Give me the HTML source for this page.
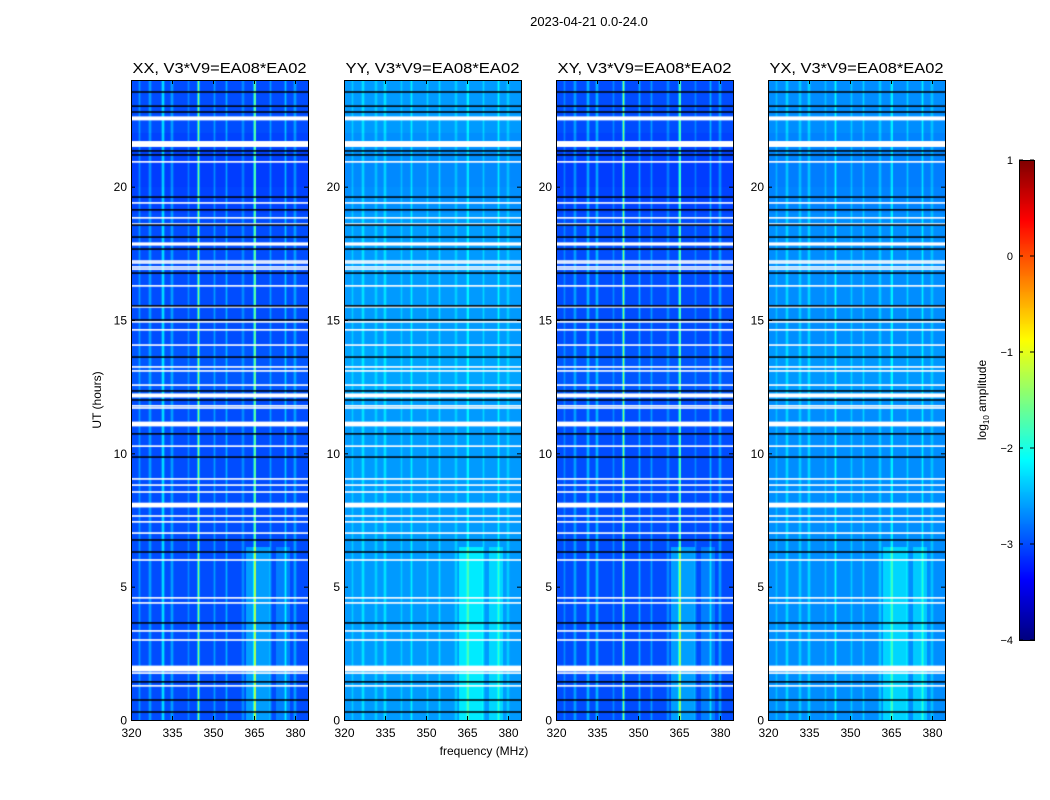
<!DOCTYPE html>
<html><head><meta charset="utf-8">
<style>
body{margin:0;background:#fff;width:1050px;height:800px;overflow:hidden;position:relative;font-family:"Liberation Sans",sans-serif}
canvas{position:absolute}
svg{position:absolute;left:0;top:0}
</style></head>
<body>
<canvas id="c0" width="177" height="640" style="left:131px;top:80px"></canvas>
<canvas id="c1" width="177" height="640" style="left:344px;top:80px"></canvas>
<canvas id="c2" width="177" height="640" style="left:556px;top:80px"></canvas>
<canvas id="c3" width="177" height="640" style="left:768px;top:80px"></canvas>
<canvas id="cb" width="15" height="480" style="left:1019px;top:160px"></canvas>
<svg id="ov" width="1050" height="800"></svg>
<script>
// ---- data ----
const panelNames = ['XX','YY','XY','YX'];
const baseLevel = [-3.0,-2.62,-3.0,-2.68];
const spikeFreq = [323,327,331.7,335,341,344.7,350.5,355,361,365.3,371,376.5,380];
const spikeAmpXX = [0.4,0.4,0.7,0.4,0.3,1.6,0.4,0.5,0.3,1.3,0.4,0.6,0.4];
const spikeAmpYY = [0.25,0.35,0.25,0.35,0.25,0.45,0.3,0.35,0.25,0.45,0.3,0.5,0.25];
const spikeAmpXY = [0.3,0.4,0.5,0.5,0.3,1.6,0.5,0.4,0.3,1.2,0.3,0.5,0.4];
const spikeAmpYX = [0.25,0.35,0.3,0.35,0.25,0.6,0.3,0.35,0.3,0.5,0.35,0.5,0.25];
const bandF0 = [362,373];
const bandF1 = [371,378];
const bandT1 = [6.5,6.5];
const bandAmpXX = [0.4,0.25];
const bandAmpYY = [0.4,0.3];
const bandAmpXY = [0.4,0.25];
const bandAmpYX = [0.35,0.3];
const hourOffset = [0,0,0,0,0,0,0,0,0,0,0,0,0.05,0.05,0,0,0,0,0,-0.05,-0.08,-0.05,0,0];
const whiteT = [22.56,21.6,20.93,19.39,18.83,18.6,17.85,17.21,17.14,16.99,16.91,16.28,15.49,14.93,14.63,14.06,13.24,13.09,12.56,12.17,11.78,11.7,11.1,10.27,9.04,8.81,8.55,8.06,7.65,7.43,7.01,6.0,4.58,4.39,3.34,3.0,1.93,1.76,1.28];
const whiteW = [0.15,0.22,0.06,0.06,0.06,0.06,0.12,0.06,0.06,0.06,0.06,0.06,0.06,0.06,0.06,0.06,0.06,0.06,0.06,0.15,0.06,0.06,0.18,0.06,0.06,0.06,0.06,0.18,0.06,0.06,0.06,0.06,0.06,0.06,0.06,0.06,0.22,0.06,0.06];
const blackT = [23.55,23.02,22.8,21.34,21.19,19.61,19.13,18.56,18.11,17.66,16.76,15.53,15.0,13.61,12.34,12.0,10.73,9.86,6.75,6.3,3.64,1.43,0.75,0.3];
const xTicks = [320,335,350,365,380];
const yTicks = [0,5,10,15,20];
const cbTicks = [1,0,-1,-2,-3,-4];
const spikeAmps = [spikeAmpXX,spikeAmpYY,spikeAmpXY,spikeAmpYX];
const bandAmps = [bandAmpXX,bandAmpYY,bandAmpXY,bandAmpYX];

// ---- scales ----
const panelLeft = [131,344,556,768];
const PW = 177, PT = 80, PB = 720;
const pxPerMHz = 41/15, pxPerHr = (PB-PT)/24;
function xs(p,f){return panelLeft[p]+(f-320)*pxPerMHz;}
function ys(t){return PB-t*pxPerHr;}
function jet(v){
  let f=Math.max(0,Math.min(1,(v+4)/5));
  const cl=x=>Math.max(0,Math.min(1,x));
  const r=cl(Math.min(4*f-1.5,-4*f+4.5)), g=cl(Math.min(4*f-0.5,-4*f+3.5)), b=cl(Math.min(4*f+0.5,-4*f+2.5));
  return [r*255|0,g*255|0,b*255|0];
}
for(let p=0;p<4;p++){
  const cv=document.getElementById('c'+p), ctx=cv.getContext('2d');
  const img=ctx.createImageData(PW,640);
  for(let y=0;y<640;y++){
    const t=(PB-(PT+y+0.5))/pxPerHr;
    const ho=hourOffset[Math.min(23,Math.floor(t))];
    for(let x=0;x<PW;x++){
      const f=320+(x+0.5)/pxPerMHz;
      let v=baseLevel[p]+ho;
      for(let i=0;i<spikeFreq.length;i++){const d=Math.abs(f-spikeFreq[i]); if(d<0.25)v+=spikeAmps[p][i]; else if(d<0.6)v+=spikeAmps[p][i]*0.35;}
      for(let i=0;i<bandF0.length;i++){ if(f>=bandF0[i]&&f<=bandF1[i]&&t<=bandT1[i]) v+=bandAmps[p][i]; }
      const c=jet(v), k=(y*PW+x)*4;
      img.data[k]=c[0];img.data[k+1]=c[1];img.data[k+2]=c[2];img.data[k+3]=255;
    }
  }
  ctx.putImageData(img,0,0);
  ctx.fillStyle='#fff';
  for(let i=0;i<whiteT.length;i++){const h=Math.max(1.5,whiteW[i]*pxPerHr); ctx.fillRect(0,ys(whiteT[i])-PT-h/2,PW,h);}
  ctx.fillStyle='#000';
  for(let i=0;i<blackT.length;i++){ctx.fillRect(0,ys(blackT[i])-PT-0.75,PW,1.5);}
}
(function(){
  const cv=document.getElementById('cb'),ctx=cv.getContext('2d');
  for(let y=0;y<480;y++){const v=1-5*(y+0.5)/480;const c=jet(v);ctx.fillStyle=`rgb(${c[0]},${c[1]},${c[2]})`;ctx.fillRect(0,y,15,1);}
})();
const NS='http://www.w3.org/2000/svg', ov=document.getElementById('ov');
function el(tag,attrs,text){const e=document.createElementNS(NS,tag);for(const k in attrs)e.setAttribute(k,attrs[k]);if(text!==undefined)e.textContent=text;ov.appendChild(e);return e;}
let e;
e=el('text',{x:589,y:26,'text-anchor':'middle','font-size':13},'2023-04-21 0.0-24.0');


for(let p=0;p<4;p++){
  const L=panelLeft[p];
  e=el('rect',{x:L+0.5,y:PT+0.5,width:PW,height:PB-PT,fill:'none',stroke:'#000','stroke-width':1});
  
  
  e=el('text',{x:L+PW/2,y:73,'text-anchor':'middle','font-size':15,textLength:174,lengthAdjust:'spacingAndGlyphs'},panelNames[p]+', V3*V9=EA08*EA02');
  
  
  for(const f of xTicks){
    const x=xs(p,f)+0.5;
    el('line',{x1:x,x2:x,y1:PB,y2:PB-4,stroke:'#000'});
    el('line',{x1:x,x2:x,y1:PT,y2:PT+4,stroke:'#000'});
    e=el('text',{x:x,y:737,'text-anchor':'middle','font-size':12},String(f));
    
    
  }
  for(const t of yTicks){
    const y=ys(t)+0.5;
    el('line',{x1:L,x2:L+4,y1:y,y2:y,stroke:'#000'});
    el('line',{x1:L+PW,x2:L+PW-4,y1:y,y2:y,stroke:'#000'});
    e=el('text',{x:L-4,y:y+4,'text-anchor':'end','font-size':12},String(t));
    
    
  }
}
e=el('text',{x:484,y:755,'text-anchor':'middle','font-size':12},'frequency (MHz)');


e=el('text',{x:0,y:0,'text-anchor':'middle','font-size':12,transform:'translate(101,400) rotate(-90)'},'UT (hours)');


e=el('rect',{x:1019.5,y:160.5,width:15,height:480,fill:'none',stroke:'#000'});


for(const v of cbTicks){
  const y=160+(1-v)/5*480;
  el('line',{x1:1019,x2:1023,y1:y,y2:y,stroke:'#000'});
  el('line',{x1:1034,x2:1030,y1:y,y2:y,stroke:'#000'});
  e=el('text',{x:1013,y:y+4,'text-anchor':'end','font-size':11},v<0?'\u2212'+(-v):String(v));
  
  
}
e=el('text',{x:0,y:0,'text-anchor':'middle','font-size':12,transform:'translate(986,400) rotate(-90)'});


const t1=document.createElementNS(NS,'tspan');t1.textContent='log';e.appendChild(t1);
const t2=document.createElementNS(NS,'tspan');t2.setAttribute('font-size','8');t2.setAttribute('dy','3');t2.textContent='10';e.appendChild(t2);
const t3=document.createElementNS(NS,'tspan');t3.setAttribute('dy','-3');t3.textContent=' amplitude';e.appendChild(t3);
</script>
</body></html>
